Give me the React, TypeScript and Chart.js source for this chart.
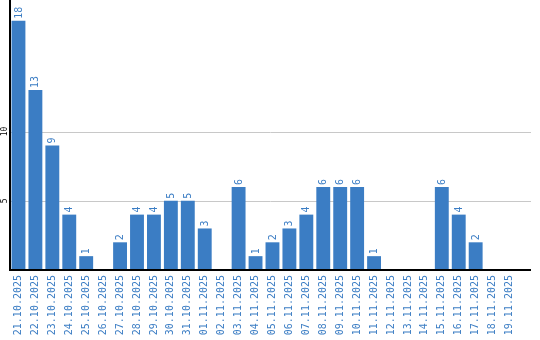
import React, { useEffect, useRef } from "react";
import { Chart, registerables } from "chart.js";

Chart.register(...registerables);

const categories = [
  "21.10.2025", "22.10.2025", "23.10.2025", "24.10.2025", "25.10.2025", "26.10.2025",
  "27.10.2025", "28.10.2025", "29.10.2025", "30.10.2025", "31.10.2025", "01.11.2025",
  "02.11.2025", "03.11.2025", "04.11.2025", "05.11.2025", "06.11.2025", "07.11.2025",
  "08.11.2025", "09.11.2025", "10.11.2025", "11.11.2025", "12.11.2025", "13.11.2025",
  "14.11.2025", "15.11.2025", "16.11.2025", "17.11.2025", "18.11.2025", "19.11.2025",
];
const values = [18, 13, 9, 4, 1, 0, 2, 4, 4, 5, 5, 3, 0, 6, 1, 2, 3, 4, 6, 6, 6, 1, 0, 0, 0, 6, 4, 2, 0, 0];
const yTicks = [5, 10];

const BLUE = "#3b7dc4";
const FONT = "'DejaVu Sans Mono', monospace";
const AXIS_END = 531;

const frame = {
  id: "frame",
  beforeDatasetsDraw(chart: any) {
    const ctx = chart.ctx;
    const ys = chart.scales.y;
    const area = chart.chartArea;
    ctx.save();
    ctx.strokeStyle = "#c8c8c8";
    ctx.lineWidth = 1;
    yTicks.forEach((t) => {
      const y = Math.round(ys.getPixelForValue(t)) + 0.5;
      ctx.beginPath();
      ctx.moveTo(area.left, y);
      ctx.lineTo(AXIS_END, y);
      ctx.stroke();
    });
    ctx.restore();
  },
  afterDatasetsDraw(chart: any) {
    const ctx = chart.ctx;
    const area = chart.chartArea;
    ctx.save();
    ctx.fillStyle = "#000";
    ctx.fillRect(area.left - 1, area.top, 2, area.bottom - area.top + 1);
    ctx.fillRect(area.left - 1, area.bottom - 1, AXIS_END - area.left + 1, 2);
    const meta = chart.getDatasetMeta(0);
    ctx.font = `10px ${FONT}`;
    ctx.fillStyle = BLUE;
    ctx.textAlign = "left";
    ctx.textBaseline = "middle";
    meta.data.forEach((bar: any, i: number) => {
      const v = values[i];
      if (!v) return;
      ctx.save();
      ctx.translate(bar.x + 0.5, bar.y - 2);
      ctx.rotate(-Math.PI / 2);
      ctx.fillText(String(v), 0, 0);
      ctx.restore();
    });
    const ys = chart.scales.y;
    ctx.font = `8px ${FONT}`;
    ctx.fillStyle = "#000";
    ctx.textAlign = "center";
    yTicks.forEach((t) => {
      ctx.save();
      ctx.translate(4.5, ys.getPixelForValue(t));
      ctx.rotate(-Math.PI / 2);
      ctx.fillText(String(t), 0, 0);
      ctx.restore();
    });
    ctx.restore();
  },
};

export default function App() {
  const ref = useRef<HTMLCanvasElement>(null);
  useEffect(() => {
    if (!ref.current) return;
    const chart = new Chart(ref.current, {
      type: "bar",
      data: {
        labels: categories,
        datasets: [
          {
            data: values,
            backgroundColor: BLUE,
            barPercentage: 0.82,
            categoryPercentage: 1,
          },
        ],
      },
      options: {
        animation: false,
        responsive: false,
        maintainAspectRatio: false,
        layout: { padding: { top: 0, right: 22, left: 0, bottom: 0 } },
        plugins: { legend: { display: false }, tooltip: { enabled: false } },
        scales: {
          x: {
            grid: { display: false, drawTicks: false },
            border: { display: false },
            ticks: {
              color: BLUE,
              font: { family: FONT, size: 10 },
              minRotation: 90,
              maxRotation: 90,
              autoSkip: false,
              padding: 5,
            },
            afterFit: (s: any) => {
              s.height = 70;
            },
          },
          y: {
            min: 0,
            max: 19.5,
            afterBuildTicks: (s: any) => {
              s.ticks = yTicks.map((v) => ({ value: v }));
            },
            grid: { display: false, drawTicks: false },
            border: { display: false },
            ticks: { display: false },
            afterFit: (s: any) => {
              s.width = 10;
            },
          },
        },
      },
      plugins: [frame],
    });
    return () => chart.destroy();
  }, []);
  return (
    <div style={{ position: "fixed", left: 0, top: 0, width: 540, height: 340, background: "#fff" }}>
      <canvas ref={ref} width={540} height={340} style={{ width: 540, height: 340 }} />
    </div>
  );
}
